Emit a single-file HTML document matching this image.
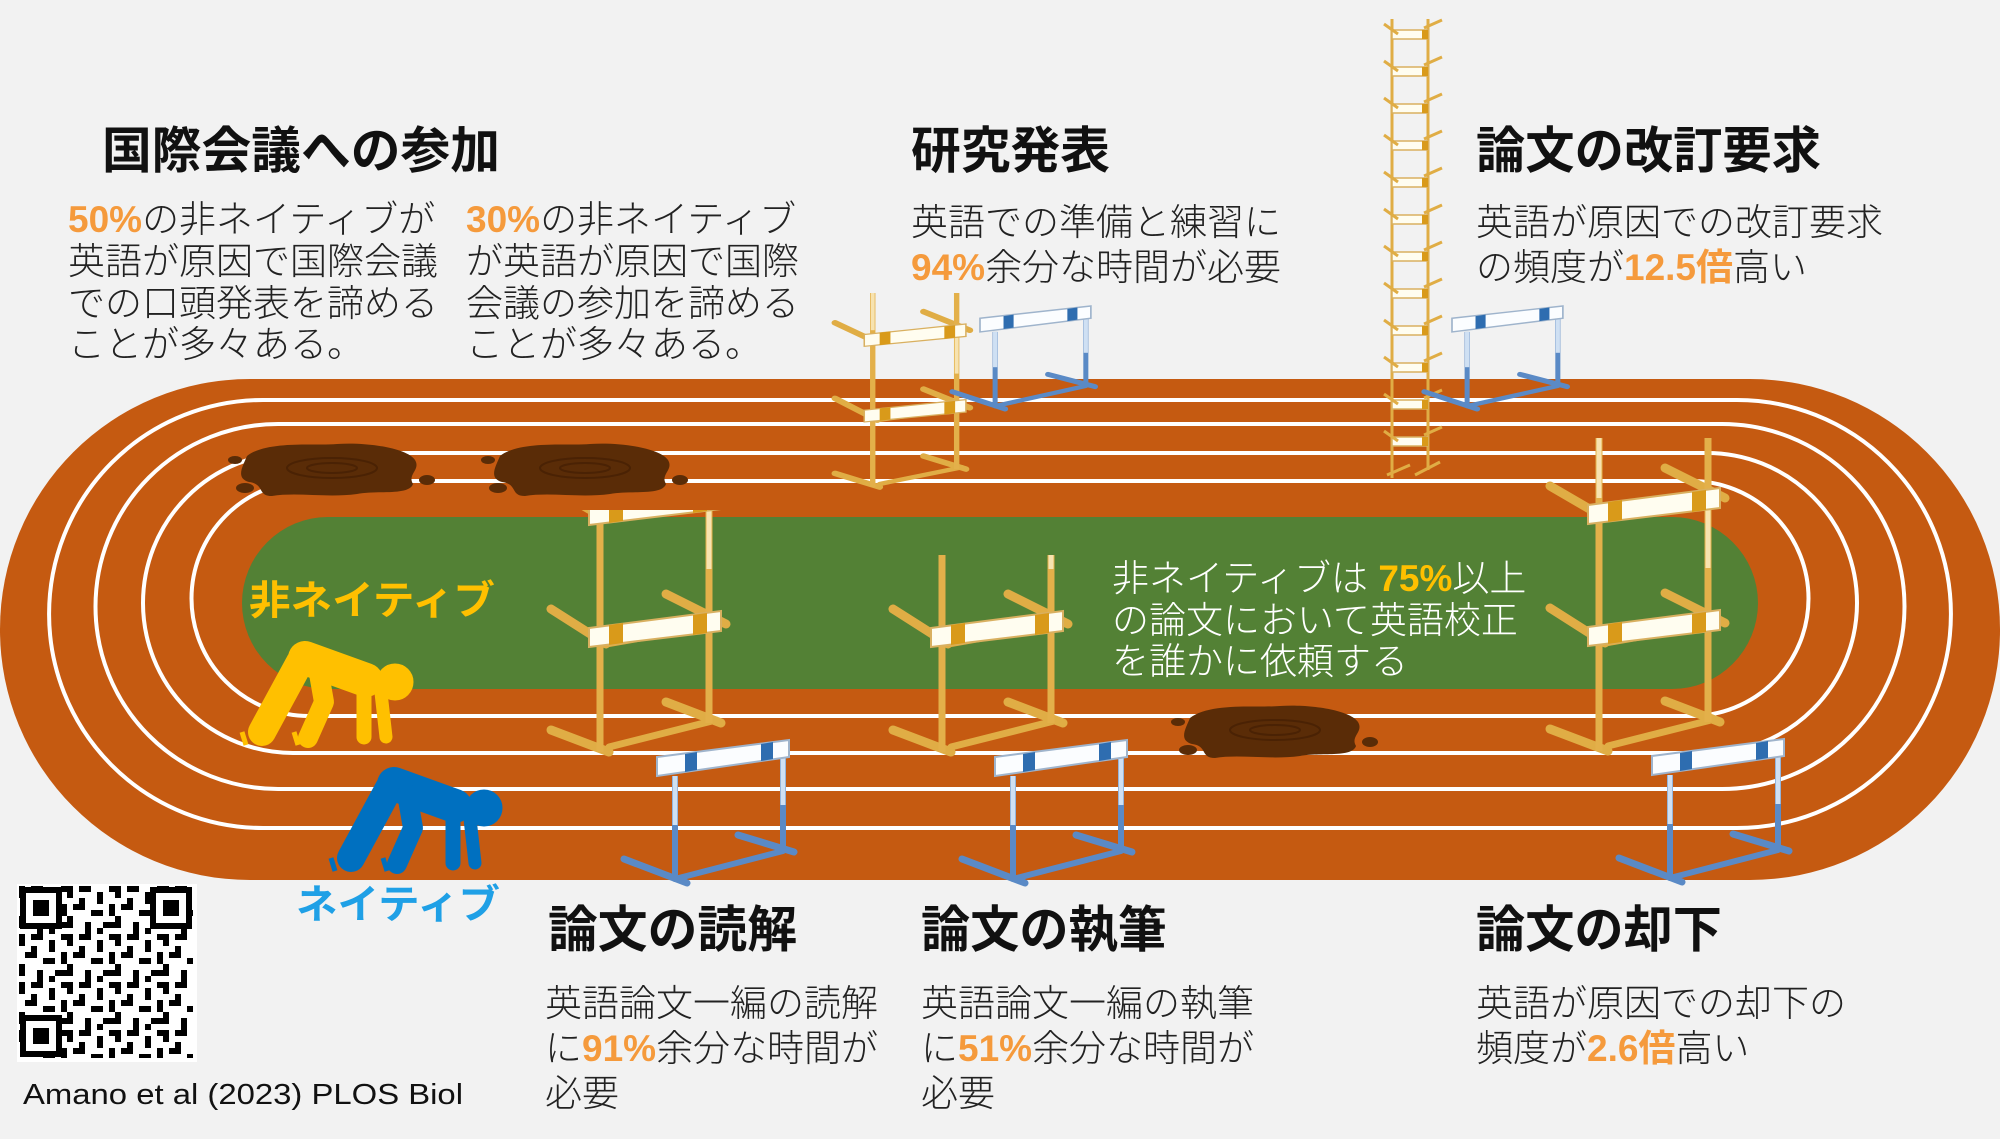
<!DOCTYPE html>
<html><head><meta charset="utf-8">
<style>
html,body{margin:0;padding:0;background:#f2f2f2;}
svg{display:block;}
.h{font-family:"Liberation Sans","Noto Sans CJK JP",sans-serif;font-weight:700;font-size:50px;fill:#111;}
.b{font-family:"Liberation Sans","Noto Sans CJK JP",sans-serif;font-weight:300;font-size:37px;fill:#222;}
.o{fill:#f59a3c;font-weight:700;}
</style></head>
<body>
<svg width="2000" height="1139" viewBox="0 0 2000 1139" xmlns="http://www.w3.org/2000/svg">
<defs>
  <g id="yh">
    <line x1="0" y1="48" x2="55" y2="80" stroke="#e0ad45" stroke-width="9" stroke-linecap="round"/>
    <line x1="115" y1="30" x2="175" y2="60" stroke="#e0ad45" stroke-width="9" stroke-linecap="round"/>
    <line x1="55" y1="80" x2="170" y2="58" stroke="#e0ad45" stroke-width="7" stroke-linecap="round"/>
    <line x1="0" y1="170" x2="55" y2="205" stroke="#e0ad45" stroke-width="9" stroke-linecap="round"/>
    <line x1="115" y1="155" x2="175" y2="185" stroke="#e0ad45" stroke-width="9" stroke-linecap="round"/>
    <line x1="55" y1="205" x2="170" y2="185" stroke="#e0ad45" stroke-width="7" stroke-linecap="round"/>
    <line x1="0" y1="291" x2="58" y2="313" stroke="#e0ad45" stroke-width="9" stroke-linecap="round"/>
    <line x1="115" y1="263" x2="170" y2="284" stroke="#e0ad45" stroke-width="9" stroke-linecap="round"/>
    <line x1="58" y1="308" x2="165" y2="281" stroke="#e0ad45" stroke-width="7" stroke-linecap="round"/>
    <line x1="49" y1="0" x2="49" y2="313" stroke="#e3b04a" stroke-width="7"/>
    <line x1="49" y1="0" x2="49" y2="60" stroke="#f7e3b0" stroke-width="5"/>
    <line x1="158" y1="0" x2="158" y2="284" stroke="#e3b04a" stroke-width="7"/>
    <line x1="158" y1="70" x2="158" y2="130" stroke="#f7e3b0" stroke-width="5"/>
    <polygon points="38,67 170,50 170,70 38,86" fill="#fffdf0" stroke="#d9b060" stroke-width="2"/>
    <polygon points="58,64 72,62 72,82 58,84" fill="#d99a1a"/>
    <polygon points="142,54 156,52 156,72 142,74" fill="#d99a1a"/>
    <polygon points="38,189 170,172 170,192 38,208" fill="#fffdf0" stroke="#d9b060" stroke-width="2"/>
    <polygon points="58,186 72,184 72,204 58,206" fill="#d99a1a"/>
    <polygon points="142,176 156,174 156,194 142,196" fill="#d99a1a"/>
  </g>
  <g id="bh">
    <line x1="-33" y1="119" x2="30" y2="143" stroke="#5a8ac6" stroke-width="7" stroke-linecap="round"/>
    <line x1="81" y1="95" x2="137" y2="112" stroke="#5a8ac6" stroke-width="7" stroke-linecap="round"/>
    <line x1="18" y1="139" x2="126" y2="111" stroke="#5a8ac6" stroke-width="6" stroke-linecap="round"/>
    <line x1="18" y1="36" x2="18" y2="140" stroke="#5a8ac6" stroke-width="6"/>
    <line x1="18" y1="36" x2="18" y2="85" stroke="#cfe0f3" stroke-width="5"/>
    <line x1="126" y1="17" x2="126" y2="112" stroke="#5a8ac6" stroke-width="6"/>
    <line x1="126" y1="17" x2="126" y2="65" stroke="#cfe0f3" stroke-width="5"/>
    <polygon points="0,17 132,0 132,17 0,36" fill="#fbfdff" stroke="#9fb4cc" stroke-width="2"/>
    <polygon points="28,14 40,12 40,30 28,32" fill="#2e6db0"/>
    <polygon points="104,4 116,2 116,19 104,21" fill="#2e6db0"/>
  </g>
  <g id="runner">
    <line x1="305" y1="658" x2="366" y2="680" stroke-width="34" stroke-linecap="round"/>
    <circle cx="395" cy="682" r="18"/>
    <line x1="364" y1="684" x2="364" y2="737" stroke-width="15" stroke-linecap="round"/>
    <line x1="380" y1="684" x2="386" y2="737" stroke-width="13" stroke-linecap="round"/>
    <line x1="300" y1="662" x2="262" y2="732" stroke-width="28" stroke-linecap="round"/>
    <polyline points="318,668 324,702 308,738" fill="none" stroke-width="20" stroke-linecap="round" stroke-linejoin="round"/>
    <line x1="242" y1="732" x2="246" y2="745" stroke-width="5"/>
    <line x1="294" y1="732" x2="298" y2="745" stroke-width="5"/>
  </g>
  <g id="puddle">
    <path d="M10,12 C30,-4 80,2 100,0 C130,-2 170,4 178,16 C184,26 170,30 176,40 C172,52 140,46 120,50 C90,54 60,48 35,52 C20,52 28,40 12,38 C-2,34 6,22 10,12 Z" fill="#5a2c07"/>
    <ellipse cx="95" cy="24" rx="45" ry="10" fill="none" stroke="#4a2204" stroke-width="2"/>
    <ellipse cx="95" cy="24" rx="25" ry="5" fill="none" stroke="#4a2204" stroke-width="2"/>
    <ellipse cx="-2" cy="16" rx="7" ry="4" fill="#5a2c07"/>
    <ellipse cx="190" cy="36" rx="8" ry="5" fill="#5a2c07"/>
    <ellipse cx="8" cy="44" rx="9" ry="5" fill="#5a2c07"/>
  </g>
  <pattern id="qr" x="19" y="886" width="48" height="48" patternUnits="userSpaceOnUse">
    <rect x="0" y="0" width="6" height="12" fill="#000"/><rect x="12" y="0" width="12" height="6" fill="#000"/>
    <rect x="30" y="6" width="6" height="12" fill="#000"/><rect x="6" y="18" width="12" height="6" fill="#000"/>
    <rect x="24" y="24" width="12" height="6" fill="#000"/><rect x="42" y="18" width="6" height="12" fill="#000"/>
    <rect x="0" y="30" width="6" height="12" fill="#000"/><rect x="18" y="36" width="6" height="12" fill="#000"/>
    <rect x="36" y="36" width="12" height="6" fill="#000"/><rect x="30" y="42" width="6" height="6" fill="#000"/>
    <rect x="12" y="12" width="6" height="6" fill="#000"/><rect x="42" y="0" width="6" height="6" fill="#000"/>
  </pattern>
  <clipPath id="c1"><rect x="0" y="510" width="2000" height="629"/></clipPath>
  <clipPath id="c2"><rect x="0" y="555" width="2000" height="584"/></clipPath>
</defs>

<rect width="2000" height="1139" fill="#f2f2f2"/>

<!-- track -->
<rect x="0" y="379" width="2000" height="501" rx="250" ry="250" fill="#c55a11"/>
<g fill="none" stroke="#fff" stroke-width="4">
  <path d="M263,400 H1737 A214,214 0 0 1 1737,828 H263 A214,214 0 0 1 263,400 Z"/>
  <path d="M278,424 H1722 A182,182 0 0 1 1722,789 H278 A182,182 0 0 1 278,424 Z"/>
  <path d="M293,453 H1707 A150,150 0 0 1 1707,753 H293 A150,150 0 0 1 293,453 Z"/>
  <path d="M309,481 H1691 A117,117 0 0 1 1691,716 H309 A117,117 0 0 1 309,481 Z"/>
</g>
<rect x="242" y="517" width="1516" height="172" rx="86" ry="86" fill="#538135"/>

<!-- puddles -->
<use href="#puddle" transform="translate(237,444)"/>
<use href="#puddle" transform="translate(490,444)"/>
<use href="#puddle" transform="translate(1180,706)"/>

<!-- yellow hurdles -->
<g clip-path="url(#c1)"><use href="#yh" transform="translate(551,439)"/></g>
<g clip-path="url(#c2)"><use href="#yh" transform="translate(893,439)"/></g>
<use href="#yh" transform="translate(1550,438)"/>
<use href="#yh" transform="translate(835,293) scale(0.77,0.62)"/>

<!-- ladder -->
<g stroke="#e0ad45" stroke-width="3" fill="none">
  <line x1="1392" y1="19" x2="1392" y2="478"/>
  <line x1="1428" y1="19" x2="1428" y2="470"/>
  <line x1="1387" y1="475" x2="1410" y2="465"/>
  <line x1="1415" y1="475" x2="1440" y2="462"/>
</g>
<g>
  <g id="rung"><rect x="1392" y="30" width="36" height="9" fill="#fffdf0" stroke="#d9b060" stroke-width="1.5"/><rect x="1422" y="30" width="6" height="9" fill="#d99a1a"/><line x1="1384" y1="24" x2="1398" y2="34" stroke="#e0ad45" stroke-width="3"/><line x1="1424" y1="28" x2="1442" y2="20" stroke="#e0ad45" stroke-width="3"/></g>
  <use href="#rung" y="37"/><use href="#rung" y="74"/><use href="#rung" y="111"/><use href="#rung" y="148"/><use href="#rung" y="185"/><use href="#rung" y="222"/><use href="#rung" y="259"/><use href="#rung" y="296"/><use href="#rung" y="333"/><use href="#rung" y="370"/><use href="#rung" y="407"/>
</g>

<!-- blue hurdles -->
<use href="#bh" transform="translate(657,740)"/>
<use href="#bh" transform="translate(995,740)"/>
<use href="#bh" transform="translate(1652,739)"/>
<use href="#bh" transform="translate(980,306) scale(0.84,0.72)"/>
<use href="#bh" transform="translate(1452,306) scale(0.84,0.72)"/>

<!-- runners -->
<use href="#runner" fill="#ffc000" stroke="#ffc000"/>
<use href="#runner" fill="#0070c0" stroke="#0070c0" transform="translate(89,126)"/>

<!-- QR -->
<rect x="17" y="884" width="180" height="178" fill="#fff"/>
<rect x="19" y="886" width="174" height="172" fill="url(#qr)"/>
<g fill="none" stroke="#000" stroke-width="6">
  <rect x="23" y="890" width="36" height="36" fill="#fff"/>
  <rect x="153" y="890" width="36" height="36" fill="#fff"/>
  <rect x="23" y="1018" width="36" height="36" fill="#fff"/>
</g>
<rect x="33" y="900" width="16" height="16" fill="#000"/>
<rect x="163" y="900" width="16" height="16" fill="#000"/>
<rect x="33" y="1028" width="16" height="16" fill="#000"/>

<!-- texts -->
<text class="h" x="102" y="168" textLength="398" lengthAdjust="spacingAndGlyphs">国際会議への参加</text>
<text class="b" x="68" y="232"><tspan class="o">50%</tspan>の非ネイティブが</text>
<text class="b" x="68" y="274">英語が原因で国際会議</text>
<text class="b" x="68" y="316">での口頭発表を諦める</text>
<text class="b" x="68" y="357">ことが多々ある。</text>
<text class="b" x="466" y="232"><tspan class="o">30%</tspan>の非ネイティブ</text>
<text class="b" x="466" y="274">が英語が原因で国際</text>
<text class="b" x="466" y="316">会議の参加を諦める</text>
<text class="b" x="466" y="357">ことが多々ある。</text>

<text class="h" x="911" y="168" textLength="199" lengthAdjust="spacingAndGlyphs">研究発表</text>
<text class="b" x="911" y="235">英語での準備と練習に</text>
<text class="b" x="911" y="280"><tspan class="o">94%</tspan>余分な時間が必要</text>

<text class="h" x="1476" y="168" textLength="345" lengthAdjust="spacingAndGlyphs">論文の改訂要求</text>
<text class="b" x="1476" y="235">英語が原因での改訂要求</text>
<text class="b" x="1476" y="280">の頻度が<tspan class="o">12.5倍</tspan>高い</text>

<text class="b" x="1112" y="591" style="fill:#fff">非ネイティブは <tspan style="fill:#ffc000;font-weight:700">75%</tspan>以上</text>
<text class="b" x="1112" y="633" style="fill:#fff">の論文において英語校正</text>
<text class="b" x="1112" y="674" style="fill:#fff">を誰かに依頼する</text>

<text class="h" x="249" y="614" style="fill:#ffc000;font-size:40px" textLength="246" lengthAdjust="spacingAndGlyphs">非ネイティブ</text>
<text class="h" x="296" y="918" style="fill:#1fa0e6;font-size:40px" textLength="204" lengthAdjust="spacingAndGlyphs">ネイティブ</text>

<text class="h" x="548" y="947" textLength="249" lengthAdjust="spacingAndGlyphs">論文の読解</text>
<text class="b" x="545" y="1016">英語論文一編の読解</text>
<text class="b" x="545" y="1061">に<tspan class="o">91%</tspan>余分な時間が</text>
<text class="b" x="545" y="1106">必要</text>

<text class="h" x="921" y="947" textLength="246" lengthAdjust="spacingAndGlyphs">論文の執筆</text>
<text class="b" x="921" y="1016">英語論文一編の執筆</text>
<text class="b" x="921" y="1061">に<tspan class="o">51%</tspan>余分な時間が</text>
<text class="b" x="921" y="1106">必要</text>

<text class="h" x="1476" y="947" textLength="246" lengthAdjust="spacingAndGlyphs">論文の却下</text>
<text class="b" x="1476" y="1016">英語が原因での却下の</text>
<text class="b" x="1476" y="1061">頻度が<tspan class="o">2.6倍</tspan>高い</text>

<text x="23" y="1104" font-family="Liberation Sans, sans-serif" font-size="29" fill="#111" textLength="440" lengthAdjust="spacingAndGlyphs">Amano et al (2023) PLOS Biol</text>
</svg>
</body></html>
